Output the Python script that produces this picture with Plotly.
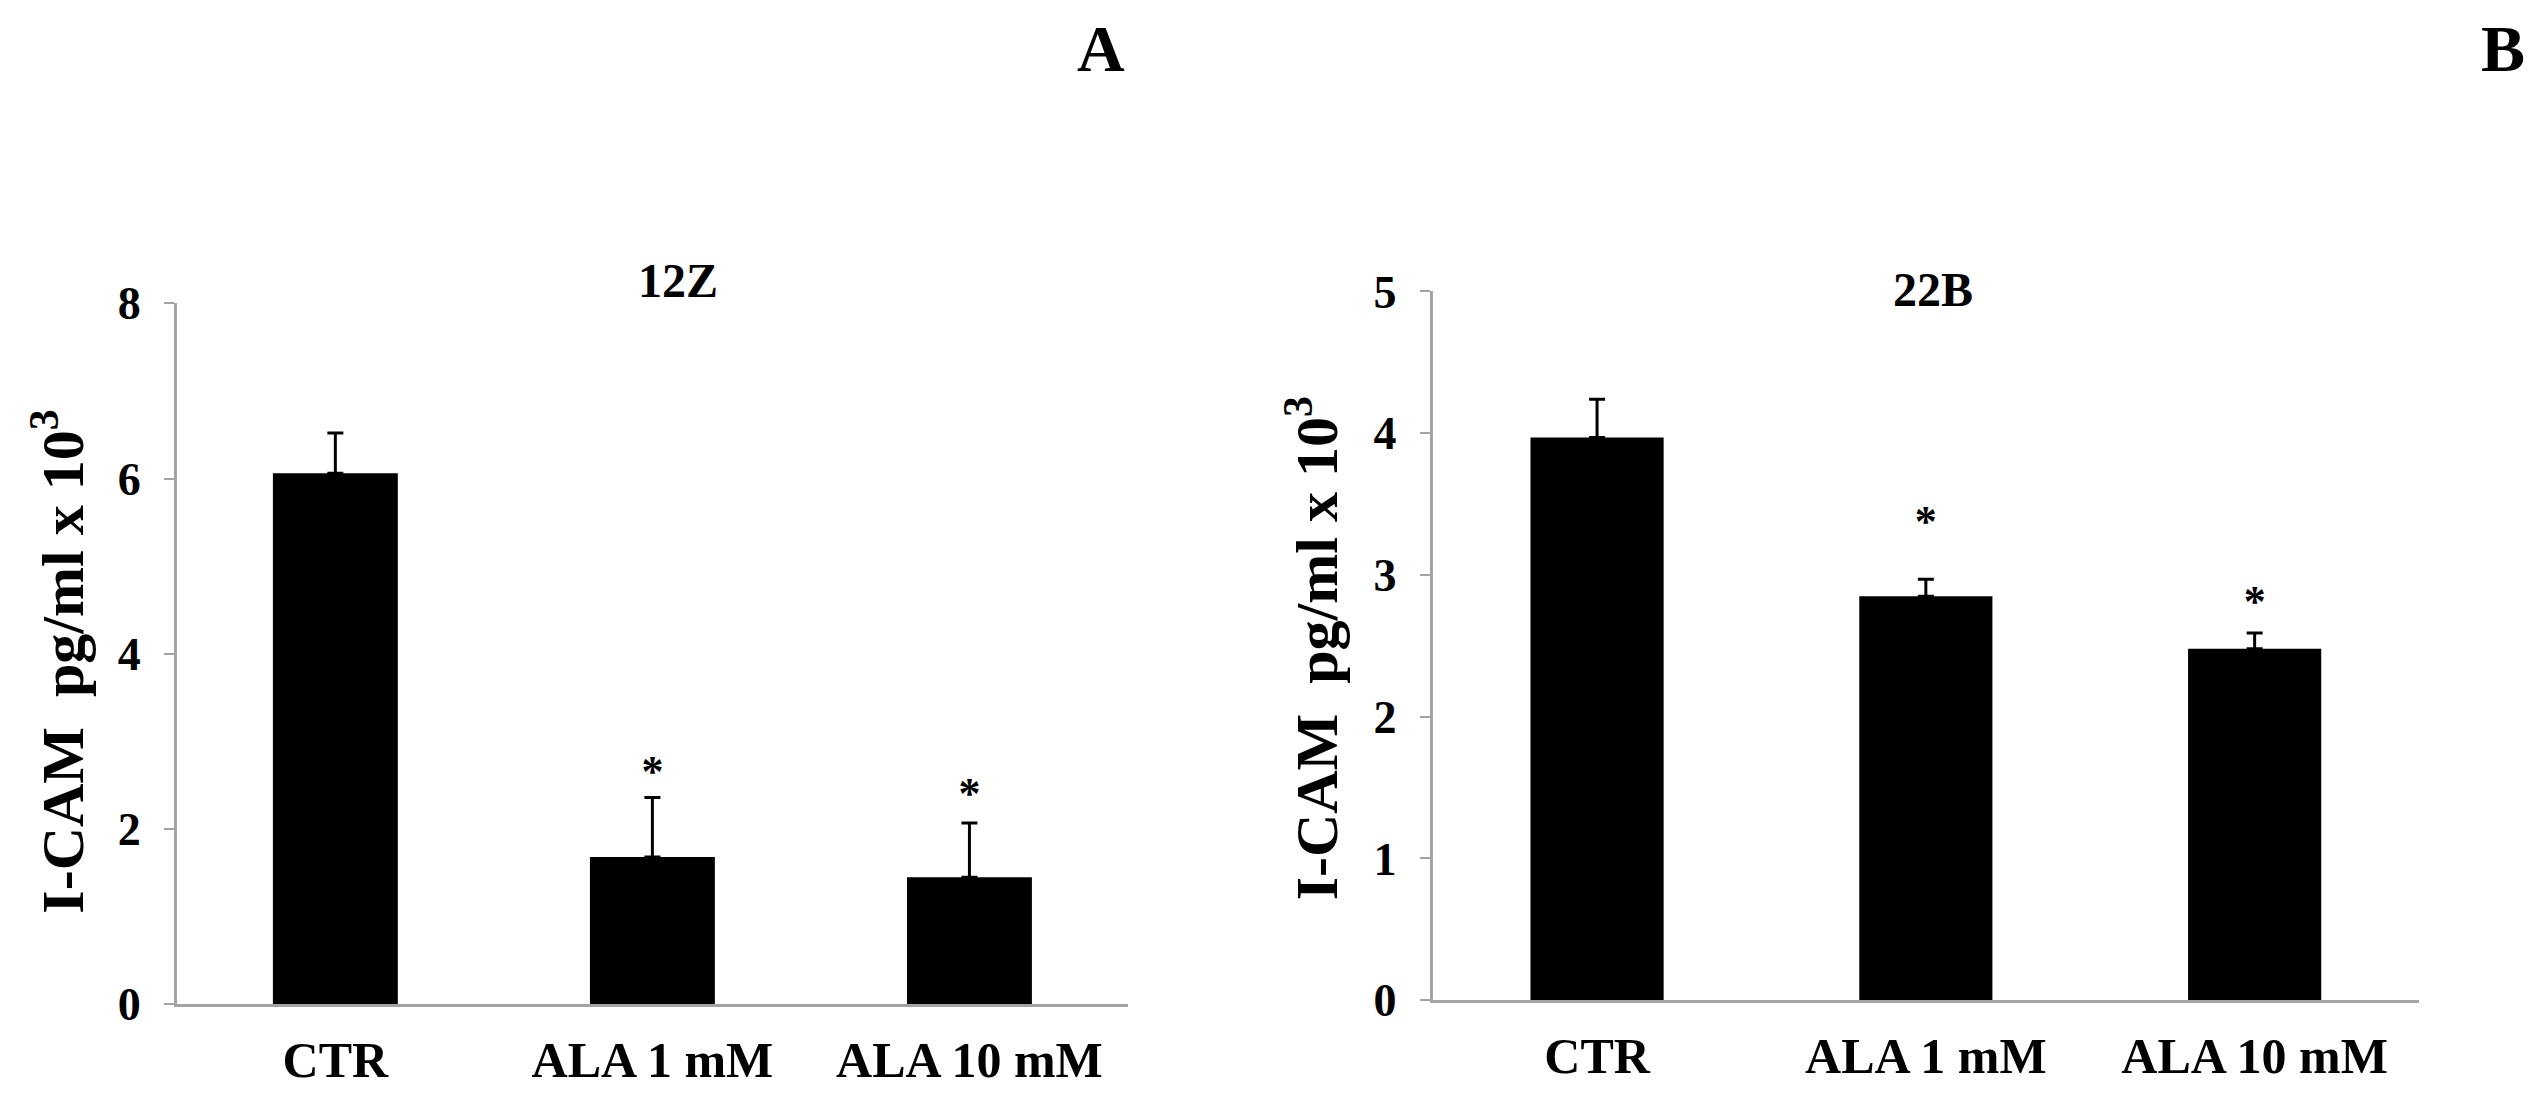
import plotly.graph_objects as go

categories = ["CTR", "ALA 1 mM", "ALA 10 mM"]

# Panel A (12Z)
a_values = [6.06, 1.68, 1.45]
a_errors = [0.46, 0.68, 0.62]
a_star_y = [None, 2.62, 2.36]

# Panel B (22B)
b_values = [3.97, 2.85, 2.48]
b_errors = [0.27, 0.12, 0.11]
b_star_y = [None, 3.35, 2.79]

a_ticks = [0, 2, 4, 6, 8]
b_ticks = [0, 1, 2, 3, 4, 5]

FONT = "Liberation Serif"
AXIS_GRAY = "#a3a3a3"

fig = go.Figure()


def add_panel(values, errors, stars, xa, ya, width):
    fig.add_trace(go.Bar(
        x=categories, y=values, width=width,
        marker=dict(color="black", line=dict(width=0)),
        error_y=dict(type="data", symmetric=False, array=errors,
                     arrayminus=[0] * len(errors), color="black",
                     thickness=3, width=8),
        xaxis=xa, yaxis=ya, showlegend=False, hoverinfo="skip",
    ))
    sx = [c for c, s in zip(categories, stars) if s is not None]
    sy = [s for s in stars if s is not None]
    fig.add_trace(go.Scatter(
        x=sx, y=sy, mode="text", text=["*"] * len(sy),
        textposition="middle center",
        textfont=dict(family=FONT, size=44, color="black", weight="bold"),
        xaxis=xa, yaxis=ya, showlegend=False, hoverinfo="skip",
    ))


add_panel(a_values, a_errors, a_star_y, "x", "y", 0.394)
add_panel(b_values, b_errors, b_star_y, "x2", "y2", 0.405)

xcommon = dict(type="category", range=[-0.5, 2.5], showline=True,
               linecolor=AXIS_GRAY, linewidth=3, ticks="", showgrid=False,
               zeroline=False, ticklabelstandoff=10,
               tickfont=dict(family=FONT, size=50, color="black",
                             weight="bold"))
ycommon = dict(showline=True, linecolor=AXIS_GRAY, linewidth=3,
               ticks="outside", ticklen=10, tickwidth=2, tickcolor=AXIS_GRAY,
               showgrid=False, zeroline=False, ticklabelstandoff=14,
               tickfont=dict(family=FONT, size=46, color="black",
                             weight="bold"))

fig.update_layout(
    width=2535, height=1094,
    margin=dict(l=0, r=0, t=0, b=0),
    paper_bgcolor="white", plot_bgcolor="white",
    xaxis=dict(domain=[0.0666, 0.4418], anchor="y", **xcommon),
    yaxis=dict(domain=[0.0688, 0.7408], anchor="x", range=[0, 8],
               tickvals=a_ticks, **ycommon),
    xaxis2=dict(domain=[0.5620, 0.9511], anchor="y2", **xcommon),
    yaxis2=dict(domain=[0.0727, 0.7522], anchor="x2", range=[0, 5],
                tickvals=b_ticks, **ycommon),
)

ann_font = dict(family=FONT, color="black", weight="bold")
annotations = [
    dict(text="12Z", x=0.2643, y=0.7627, size=48),
    dict(text="22B", x=0.7593, y=0.7541, size=48),
    dict(text="A", x=0.4311, y=0.9848, size=66),
    dict(text="B", x=0.9842, y=0.9848, size=66),
]
for a in annotations:
    fig.add_annotation(text=a["text"], x=a["x"], y=a["y"], xref="paper",
                       yref="paper", xanchor="center", yanchor="middle",
                       showarrow=False, font=dict(size=a["size"], **ann_font))

ytitle = "I-CAM&nbsp;&nbsp;pg/ml x 10<sup>3</sup>"
for xpos, ypos in [(0.0200, 0.397), (0.5144, 0.410)]:
    fig.add_annotation(text=ytitle, x=xpos, y=ypos, xref="paper",
                       yref="paper", xanchor="center", yanchor="middle",
                       textangle=-90, showarrow=False,
                       font=dict(size=60, **ann_font))

fig.write_html("out.html")
